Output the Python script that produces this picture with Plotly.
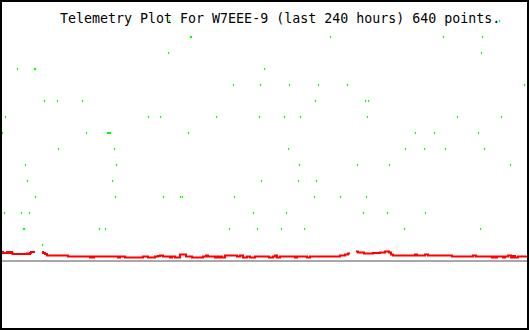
import plotly.graph_objects as go

# ---------------- data ----------------
TITLE = "Telemetry Plot For W7EEE-9 (last 240 hours) 640 points."

# green samples: column position and value (quantised in steps of 16)
green_x = [169, 499,
           190, 191, 330, 443, 482,
           168, 481,
           17, 34, 35, 264,
           233, 260, 289, 318, 347, 524,
           44, 57, 82, 315, 365, 368,
           5, 148, 160, 216, 259, 284, 300, 367, 457, 501,
           2, 86, 107, 108, 109, 110, 188, 415, 434, 478,
           58, 114, 288, 405, 424, 445, 484,
           25, 116, 299, 357, 389, 510,
           27, 112, 261, 298, 316,
           35, 115, 163, 180, 182, 234, 314, 340, 366,
           4, 21, 29, 253, 286, 363, 387, 425,
           23, 24, 99, 105, 229, 257, 281, 304, 404, 480,
           42]
green_v = [240, 240,
           224, 224, 224, 224, 224,
           208, 208,
           192, 192, 192, 192,
           176, 176, 176, 176, 176, 176,
           160, 160, 160, 160, 160, 160,
           144, 144, 144, 144, 144, 144, 144, 144, 144, 144,
           128, 128, 128, 128, 128, 128, 128, 128, 128, 128,
           112, 112, 112, 112, 112, 112, 112,
           96, 96, 96, 96, 96, 96,
           80, 80, 80, 80, 80,
           64, 64, 64, 64, 64, 64, 64, 64, 64,
           48, 48, 48, 48, 48, 48, 48, 48,
           32, 32, 32, 32, 32, 32, 32, 32, 32, 32,
           16]

# red series (step breakpoints; None = no data)
red_x = [0, 3, 7, 8, 10, 12, 13, 27, 28, 30, 31, 35,
         42, 43, 45, 47, 68, 90, 92, 93, 94, 118, 120, 125, 143, 148, 155, 158,
         160, 163, 170, 172, 175, 180, 186, 192, 203, 206, 208, 215, 217, 219,
         221, 222, 225, 237, 240, 243, 247, 250, 255, 269, 273, 275, 277, 280,
         295, 297, 307, 310, 340, 345, 348, 350,
         356, 358, 364, 373, 380, 385, 389, 391, 393, 415, 417, 425, 428, 452,
         473, 476, 492, 494, 495, 497, 503, 505, 508, 511, 513, 515, 518, 529]
red_v = [9, 8, 9, 8, 9, 7.5, 7, 7.5, 7, 8, 9, None,
         9, 8, 7, 5.5, 4.5, 3.5, 4.5, 3.5, 4.5, 3.5, 4.5, 3.5, 4.5, 3.5, 4.5, 5,
         5.5, 4.5, 3.5, 4.5, 3.5, 6.5, 4.5, 3.5, 4.5, 5.5, 4.5, 3.5, 4.5, 3.5,
         4.5, 3.5, 5.5, 4.5, 5.5, 3.5, 4.5, 3.5, 4.5, 3.5, 4.5, 5.5, 3.5, 4.5,
         3.5, 4.5, 3.5, 4.5, 5.5, 6.5, 7.5, None,
         9.5, 8.5, 7.5, 8, 8.5, 9.5, 8.5, 6.5, 5.5, 6.5, 5.5, 6.5, 5.5, 4.5,
         5.5, 4.5, 3.5, 4.5, 3.5, 4.5, 3.5, 4.5, 5.5, 3.5, 5, 3.5, 4.5, 4.5]

baseline_x = [2, 528]
baseline_v = [0, 0]

# ---------------- figure ----------------
W, H = 530, 330
fig = go.Figure()

fig.add_trace(go.Scatter(x=baseline_x, y=baseline_v, mode="lines",
                         line=dict(color="#a8a8a8", width=2),
                         hoverinfo="skip", showlegend=False))

# build step segments, breaking at None
sx, sv = [], []
for i, (x, v) in enumerate(zip(red_x, red_v)):
    if v is None:
        sx.append(x); sv.append(red_v[i - 1])
        sx.append(None); sv.append(None)
    else:
        sx.append(x); sv.append(v)
fig.add_trace(go.Scatter(x=sx, y=sv, mode="lines", line_shape="hv",
                         connectgaps=False,
                         line=dict(color="#ff0000", width=2),
                         hoverinfo="skip", showlegend=False))

fig.add_trace(go.Scatter(x=[x + 0.5 for x in green_x], y=green_v, mode="markers",
                         marker=dict(symbol="line-ns", size=1.5,
                                     line=dict(color="#00ff00", width=1.2)),
                         hoverinfo="skip", showlegend=False))

fig.add_annotation(text=TITLE, xref="paper", yref="paper",
                   x=58 / W, y=1 - 18 / H, xanchor="left", yanchor="middle",
                   showarrow=False,
                   font=dict(family="DejaVu Sans Mono", size=13.3, color="black"))

fig.add_shape(type="rect", xref="paper", yref="paper",
              x0=1 / W, x1=528 / W, y0=1 - 329 / H, y1=1 - 1 / H,
              line=dict(color="black", width=2))

fig.update_layout(width=W, height=H, margin=dict(l=0, r=0, t=0, b=0),
                  paper_bgcolor="white", plot_bgcolor="white",
                  xaxis=dict(range=[0, 530], visible=False, fixedrange=True),
                  yaxis=dict(range=[-69, 261], visible=False, fixedrange=True))

fig.write_html("out.html")
